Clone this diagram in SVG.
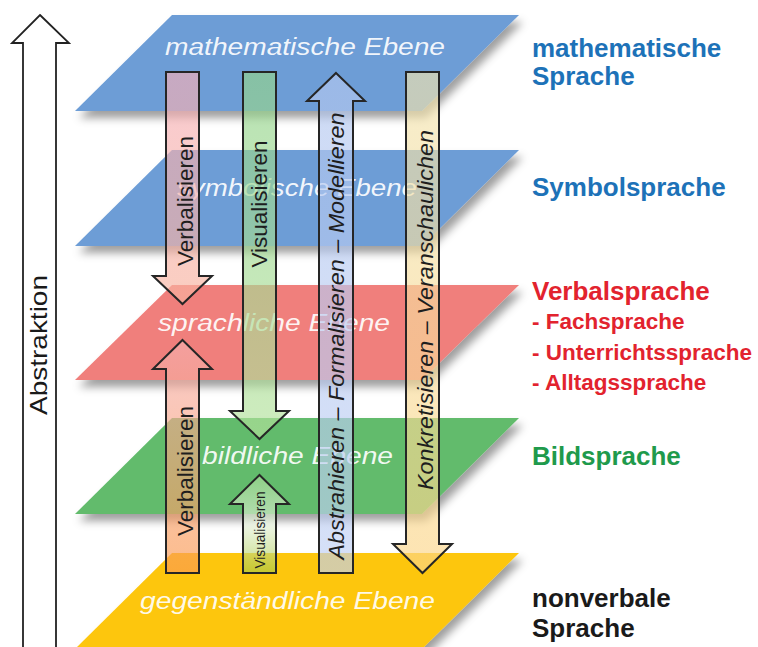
<svg xmlns="http://www.w3.org/2000/svg" width="758" height="647" viewBox="0 0 758 647">
  <defs>
    <filter id="sh" x="-10%" y="-20%" width="130%" height="160%">
      <feDropShadow dx="4" dy="7" stdDeviation="4" flood-color="#000" flood-opacity="0.38"/>
    </filter>
    <linearGradient id="gPink" x1="0" y1="0" x2="0" y2="1">
      <stop offset="0" stop-color="#f6b0b8"/>
      <stop offset="1" stop-color="#f8b4a0"/>
    </linearGradient>
    <linearGradient id="gPink2" x1="0" y1="0" x2="0" y2="1">
      <stop offset="0" stop-color="#f6b0b0"/>
      <stop offset="1" stop-color="#fa9a50"/>
    </linearGradient>
    <linearGradient id="gGreen" x1="0" y1="0" x2="0" y2="1">
      <stop offset="0" stop-color="#94d48c"/>
      <stop offset="1" stop-color="#b4e29c"/>
    </linearGradient>
    <linearGradient id="gGreen2" x1="0" y1="0" x2="0" y2="1">
      <stop offset="0" stop-color="#a4da94"/>
      <stop offset="0.5" stop-color="#e6f2dc"/>
      <stop offset="1" stop-color="#a8c840"/>
    </linearGradient>
    <linearGradient id="gBlue" x1="0" y1="0" x2="0" y2="1">
      <stop offset="0" stop-color="#b4c8f0"/>
      <stop offset="1" stop-color="#c0d0f4"/>
    </linearGradient>
    <linearGradient id="gCream" x1="0" y1="0" x2="0" y2="1">
      <stop offset="0" stop-color="#f2e4b0"/>
      <stop offset="1" stop-color="#fcd68a"/>
    </linearGradient>
    <style>
      .plane { stroke: none; filter: url(#sh); }
      .ptxt { font-family: "Liberation Sans", Arial, sans-serif; font-style: italic; font-size: 23px; fill: #ffffff; fill-opacity: 0.92; }
      .arr { stroke: #262626; stroke-width: 2; stroke-linejoin: miter; fill-opacity: 0.66; }
      .atxt { font-family: "Liberation Sans", Arial, sans-serif; font-size: 22.5px; fill: #1e1e1e; }
      .it { font-style: italic; }
      .lab { font-family: "Liberation Sans", Arial, sans-serif; font-weight: bold; font-size: 26px; }
      .sub { font-size: 22.5px; }
      .blue { fill: #1d72b8; }
      .red { fill: #e2232e; }
      .green { fill: #1f9a4c; }
      .black { fill: #1a1a1a; }
    </style>
  </defs>
  <rect width="758" height="647" fill="#ffffff"/>

  <g id="abstraktion">
    <polygon points="40,15 69,43 56,43 56,660 23,660 23,43 12,43" fill="#ffffff" stroke="#222" stroke-width="1.8"/>
    <text transform="translate(47,345) rotate(-90)" text-anchor="middle" font-family="Liberation Sans, Arial, sans-serif" font-size="24" fill="#1a1a1a" textLength="140" lengthAdjust="spacingAndGlyphs">Abstraktion</text>
  </g>

  <g id="plane-math">
    <polygon class="plane" points="172,15 519,15 422,111 75,111" fill="#6d9dd6"/>
    <text class="ptxt" x="165" y="55" textLength="280" lengthAdjust="spacingAndGlyphs">mathematische Ebene</text>
  </g>
  <g id="plane-symbol">
    <polygon class="plane" points="172,150 519,150 422,246 75,246" fill="#6d9dd6"/>
    <text class="ptxt" x="177" y="196" textLength="240" lengthAdjust="spacingAndGlyphs">symbolische Ebene</text>
  </g>
  <g id="plane-sprach">
    <polygon class="plane" points="172,285 519,285 422,380 75,380" fill="#f07f7b"/>
    <text class="ptxt" x="158" y="331" textLength="232" lengthAdjust="spacingAndGlyphs">sprachliche Ebene</text>
  </g>
  <g id="plane-bild">
    <polygon class="plane" points="172,418 519,418 422,514 75,514" fill="#62bb6c"/>
    <text class="ptxt" x="202" y="464" textLength="191" lengthAdjust="spacingAndGlyphs">bildliche Ebene</text>
  </g>
  <g id="plane-gegen">
    <polygon class="plane" points="172,553 519,553 422,649 75,649" fill="#fdc60f"/>
    <text class="ptxt" x="140" y="609" textLength="295" lengthAdjust="spacingAndGlyphs">gegenständliche Ebene</text>
  </g>

  <g id="connectors">
    <g id="arr-verbal-down">
      <polygon class="arr" fill="url(#gPink)" points="166,72 199,72 199,276 212,276 182.5,304 153,276 166,276"/>
      <text class="atxt" transform="translate(193,201) rotate(-90)" text-anchor="middle">Verbalisieren</text>
    </g>
    <g id="arr-verbal-up">
      <polygon class="arr" fill="url(#gPink2)" points="182.5,340 212,369 199,369 199,573 166,573 166,369 153,369"/>
      <text class="atxt" transform="translate(193,471) rotate(-90)" text-anchor="middle">Verbalisieren</text>
    </g>
    <g id="arr-visual-down">
      <polygon class="arr" fill="url(#gGreen)" points="243,72 276,72 276,411 289,411 259.5,439 230,411 243,411"/>
      <text class="atxt" transform="translate(267,204) rotate(-90)" text-anchor="middle">Visualisieren</text>
    </g>
    <g id="arr-visual-up">
      <polygon class="arr" fill="url(#gGreen2)" points="259.5,475 289,504 276,504 276,573 243,573 243,504 230,504"/>
      <text transform="translate(265,530) rotate(-90)" text-anchor="middle" font-family="Liberation Sans, Arial, sans-serif" font-size="15" fill="#1e1e1e" textLength="77" lengthAdjust="spacingAndGlyphs">Visualisieren</text>
    </g>
    <g id="arr-abstrahieren">
      <polygon class="arr" fill="url(#gBlue)" points="336,73 365,101 353,101 353,573 319,573 319,101 307,101"/>
      <text class="atxt it" transform="translate(344,336) rotate(-90)" text-anchor="middle" textLength="447" lengthAdjust="spacingAndGlyphs">Abstrahieren – Formalisieren – Modellieren</text>
    </g>
    <g id="arr-konkret">
      <polygon class="arr" fill="url(#gCream)" points="406,72 439,72 439,544 452,544 422.5,573 393,544 406,544"/>
      <text class="atxt it" transform="translate(433,310) rotate(-90)" text-anchor="middle" textLength="360" lengthAdjust="spacingAndGlyphs">Konkretisieren – Veranschaulichen</text>
    </g>
  </g>

  <g id="labels">
    <text class="lab blue" x="532" y="57">mathematische</text>
    <text class="lab blue" x="532" y="85">Sprache</text>
    <text class="lab blue" x="532" y="196">Symbolsprache</text>
    <text class="lab red" x="532" y="300">Verbalsprache</text>
    <text class="lab red sub" x="532" y="329">- Fachsprache</text>
    <text class="lab red sub" x="532" y="360">- Unterrichtssprache</text>
    <text class="lab red sub" x="532" y="390">- Alltagssprache</text>
    <text class="lab green" x="532" y="465">Bildsprache</text>
    <text class="lab black" x="532" y="607">nonverbale</text>
    <text class="lab black" x="532" y="637">Sprache</text>
  </g>
</svg>
